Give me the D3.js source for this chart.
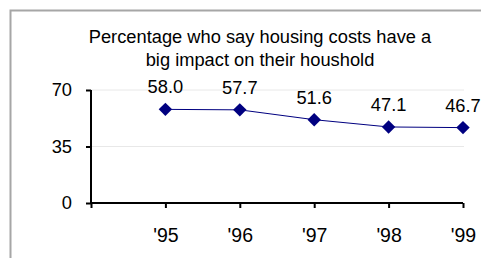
<!DOCTYPE html>
<html>
    <head>
        <meta charset='utf-8'>
        <title>Housing costs impact</title>
        <script src='https://cdn.jsdelivr.net/npm/d3@7'></script>
        <style>
            body {
                margin: 0;
                background: #fff;
            }
            svg text {
                font-family: "Liberation Sans", Arial, sans-serif;
            }
        </style>
    </head>
    <body>
        <div id='chart'></div>
        <script>
            var titleLines = ["Percentage who say housing costs have a", "big impact on their houshold"];
            var years = ["'95", "'96", "'97", "'98", "'99"];
            var values = [58.0, 57.7, 51.6, 47.1, 46.7];
            var yTicks = [0, 35, 70];

            var w = 481;
            var h = 258;
            var fontSize = 18.3;

            var svg = d3.select("#chart")
                        .append("svg")
                        .attr("width", w)
                        .attr("height", h);

            // outer frame, cut off at the right and bottom
            svg.append("rect")
                .attr("x", 10.5)
                .attr("y", 10.5)
                .attr("width", w)
                .attr("height", h)
                .attr("fill", "none")
                .attr("stroke", "#a6a6a6")
                .attr("stroke-width", 2);

            svg.append("text")
                .attr("x", 260)
                .attr("y", 43)
                .attr("text-anchor", "middle")
                .attr("font-size", fontSize + "px")
                .attr("fill", "#000")
                .selectAll("tspan")
                .data(titleLines)
                .enter()
                .append("tspan")
                .attr("x", 260)
                .attr("dy", function(d, i) { return i === 0 ? 0 : 23; })
                .text(function(d) { return d; });

            // first slot is empty so points sit on the ticks after the axis
            var x = d3.scalePoint()
                        .domain([""].concat(years))
                        .range([91, 463]);

            var y = d3.scaleLinear()
                        .domain([0, 70])
                        .range([203, 90]);

            // gridlines
            svg.selectAll("line.grid")
                .data(yTicks.filter(function(d) { return d > 0; }))
                .enter()
                .append("line")
                .attr("class", "grid")
                .attr("x1", x.range()[0])
                .attr("x2", x.range()[1] + 1)
                .attr("y1", function(d) { return y(d); })
                .attr("y2", function(d) { return y(d); })
                .attr("stroke", "#e8e8e8")
                .attr("stroke-width", 1);

            var yAxis = svg.append("g")
                .attr("transform", "translate(" + x.range()[0] + ",0)")
                .call(d3.axisLeft(y).tickValues(yTicks).tickSize(5).tickPadding(14));

            var xAxis = svg.append("g")
                .attr("transform", "translate(0," + y(0) + ")")
                .call(d3.axisBottom(x).tickSize(5).tickPadding(20));

            [yAxis, xAxis].forEach(function(g) {
                g.select(".domain")
                    .attr("stroke", "#000")
                    .attr("stroke-width", 2);
                g.selectAll(".tick line")
                    .attr("stroke", "#000")
                    .attr("stroke-width", 2);
                g.selectAll(".tick text")
                    .attr("font-family", "'Liberation Sans', Arial, sans-serif")
                    .attr("font-size", fontSize + "px")
                    .attr("fill", "#000");
            });
            xAxis.selectAll(".tick text").attr("font-size", "19.5px");

            // remove outer tick ends of the domain path
            yAxis.select(".domain").attr("d", "M0," + y(70) + "V" + y(0));
            xAxis.select(".domain").attr("d", "M" + x.range()[0] + ",0H" + x.range()[1]);

            var line = d3.line()
                        .x(function(d, i) { return x(years[i]); })
                        .y(function(d) { return y(d); });

            svg.append("path")
                .datum(values)
                .attr("d", line)
                .attr("fill", "none")
                .attr("stroke", "#000080")
                .attr("stroke-width", 1);

            svg.selectAll("path.marker")
                .data(values)
                .enter()
                .append("path")
                .attr("class", "marker")
                .attr("d", d3.symbol().type(d3.symbolDiamond2).size(115))
                .attr("transform", function(d, i) {
                    return "translate(" + x(years[i]) + "," + y(d) + ")";
                })
                .attr("fill", "#000080");

            svg.selectAll("text.value")
                .data(values)
                .enter()
                .append("text")
                .attr("class", "value")
                .attr("x", function(d, i) { return x(years[i]); })
                .attr("y", function(d) { return y(d) - 16; })
                .attr("text-anchor", "middle")
                .attr("font-size", fontSize + "px")
                .attr("fill", "#000")
                .text(function(d) { return d.toFixed(1); });
        </script>
    </body>
</html>
